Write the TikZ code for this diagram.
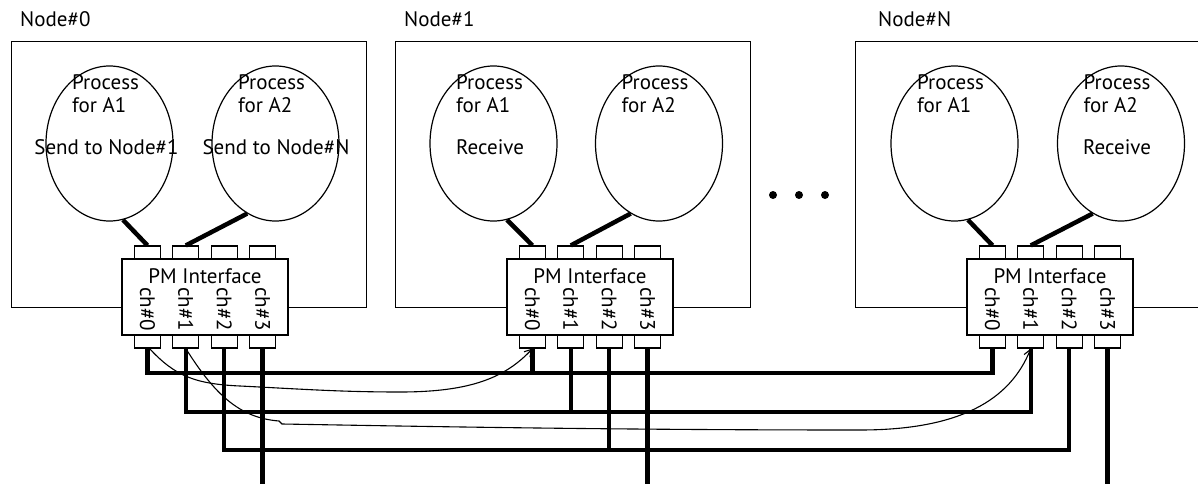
\documentclass[tikz,border=0pt]{standalone}
\usepackage{fontspec}
\setmainfont{PT Sans}
\usetikzlibrary{arrows.meta,shapes.geometric}
\begin{document}
\begin{tikzpicture}[x=1pt,y=-1pt,
  every node/.style={font=\fontsize{21}{23}\selectfont, inner sep=0pt},
  hostbox/.style={draw=black, line width=1.3pt, minimum width=355pt, minimum height=266pt, anchor=north west},
  proc/.style={draw=black, line width=1.2pt, ellipse, minimum width=127pt, minimum height=155pt},
  pmbox/.style={draw=black, line width=1.2pt, fill=white, minimum width=166pt, minimum height=76pt},
  port/.style={draw=black, line width=1.1pt, fill=white, minimum width=26pt, minimum height=13pt},
  link/.style={line width=4.5pt},
  bus/.style={line width=4.5pt, line join=miter},
  msg/.style={line width=1.1pt, -{Straight Barb[length=7pt,width=8pt]}},
]
\useasboundingbox (0,0) rectangle (1198,484);
\clip (0,0) rectangle (1198,484);

% one host per entry: name / box left / title x / process centres / interface centre
\foreach \k/\bx/\lx/\ea/\eb/\pc in {0/11/20/109.5/275.5/205, 1/395/404/493.5/659/590, N/855/878/954.5/1121/1050}{
  \node[hostbox] (box\k) at (\bx,41) {};
  \node[anchor=base west] (title\k) at (\lx,27) {Node\#\k};
  \node[proc] (ea\k) at (\ea,143.5) {};
  \node[proc] (eb\k) at (\eb,143.5) {};
  \node[anchor=base west] (pa\k) at ({\ea-37.5},90) {Process};
  \node[anchor=base west] (fa\k) at ({\ea-37.5},113) {for A1};
  \node[anchor=base west] (pb\k) at ({\eb-37.5},90) {Process};
  \node[anchor=base west] (fb\k) at ({\eb-37.5},113) {for A2};
  \node[pmbox] (pm\k) at (\pc,297) {};
  \node[anchor=base] (pml\k) at (\pc,283) {PM Interface};
  \foreach \j/\dx in {0/-57.5,1/-19.2,2/19.2,3/57.5}{
    \node[port] (pt\k\j) at ({\pc+\dx},252.5) {};
    \node[port] (pb\k\j) at ({\pc+\dx},341.5) {};
    \node[rotate=-90] (ch\k\j) at ({\pc+\dx},309) {ch\#\j};
  }
  \draw[link] (ea\k.-80) -- (pt\k0.north);
  \draw[link] (eb\k.-112) -- (pt\k1.north);
}

% process roles
\node[anchor=base] (s0a) at (106.5,154) {Send to Node\#1};
\node[anchor=base] (s0b) at (276,154) {Send to Node\#N};
\node[anchor=base west] (r1a) at (456,154) {Receive};
\node[anchor=base west] (rNb) at (1083,154) {Receive};

% ellipsis between hosts
\fill (773,195) circle (4pt);
\fill (799,195) circle (4pt);
\fill (825,195) circle (4pt);

% channel buses
\coordinate (row0) at (0,373);
\coordinate (row1) at (0,412);
\coordinate (row2) at (0,450);
\coordinate (floor) at (0,490);
\draw[bus] (pb00.south) -- (pb00.south |- row0) -| (pbN0.south);
\draw[bus] (pb10.south) -- (pb10.south |- row0);
\draw[bus] (pb01.south) -- (pb01.south |- row1) -| (pbN1.south);
\draw[bus] (pb11.south) -- (pb11.south |- row1);
\draw[bus] (pb02.south) -- (pb02.south |- row2) -| (pbN2.south);
\draw[bus] (pb12.south) -- (pb12.south |- row2);
\foreach \k in {0,1,N}{
  \draw[bus] (pb\k3.south) -- (pb\k3.south |- floor);
}

% messages
\draw[msg] ([xshift=2pt]pb00.south) .. controls (175,376) and (195,384) .. (240,386)
  .. controls (300,389) and (340,392) .. (400,392)
  .. controls (470,392) and (505,378) .. (pb10.south);
\draw[msg] (pb01.south) .. controls (215,395) and (240,418) .. (279,421) -- (282,424)
  .. controls (400,426) and (600,430) .. (860,430)
  .. controls (960,430) and (1010,400) .. (pbN1.south);
\end{tikzpicture}
\end{document}
